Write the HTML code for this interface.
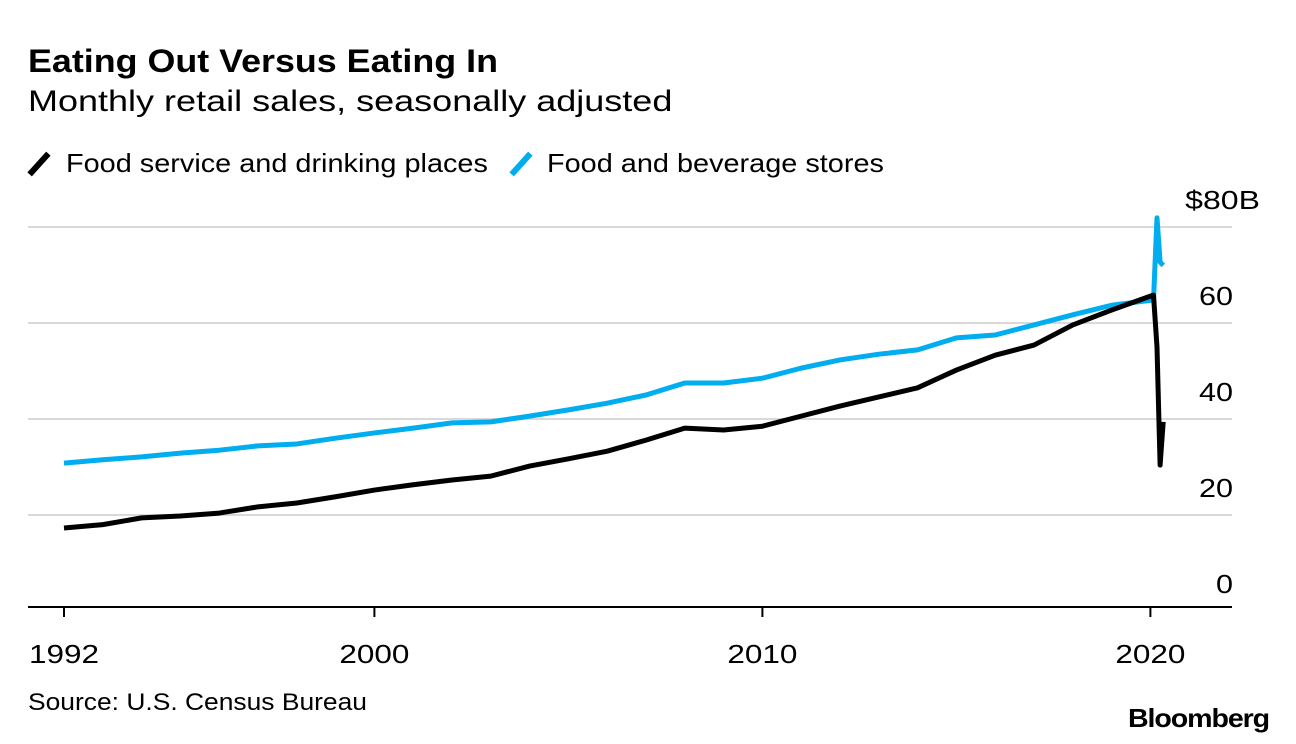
<!DOCTYPE html>
<html><head><meta charset="utf-8"><style>
body{margin:0;background:#fff;font-family:"Liberation Sans",sans-serif;}
#wrap{position:relative;width:1296px;height:744px;overflow:hidden;}
.t{position:absolute;white-space:nowrap;color:#000;transform-origin:0 50%;}
</style></head><body>
<div id="wrap">
<div class="t" style="left:28px;top:43px;font-size:32px;font-weight:bold;transform:scaleX(1.12)">Eating Out Versus Eating In</div>
<div class="t" style="left:28px;top:85px;font-size:30px;transform:scaleX(1.2)">Monthly retail sales, seasonally adjusted</div>
<div style="position:absolute;left:36px;top:150px;width:6px;height:28px;background:#000;transform:rotate(42deg)"></div>
<div class="t" style="left:66px;top:148px;font-size:26px;transform:scaleX(1.11)">Food service and drinking places</div>
<div style="position:absolute;left:518px;top:150px;width:6px;height:28px;background:#00adef;transform:rotate(42deg)"></div>
<div class="t" style="left:547px;top:148px;font-size:26px;transform:scaleX(1.11)">Food and beverage stores</div>
<svg id="chart" width="1296" height="744" style="position:absolute;left:0;top:0"></svg>
<div class="t" style="left:28px;top:689px;font-size:24px;transform:scaleX(1.1)">Source: U.S. Census Bureau</div>
<div class="t" style="left:1128px;top:703px;font-size:26px;font-weight:bold;letter-spacing:-1px;transform:scaleX(1.1)">Bloomberg</div>
</div>
<script>
const yTicks=[0,20,40,60,80];
const yTickLabels=["0","20","40","60","$80B"];
const xTicks=[1992,2000,2010,2020];
const serviceYears=[1992,1993,1994,1995,1996,1997,1998,1999,2000,2001,2002,2003,2004,2005,2006,2007,2008,2009,2010,2011,2012,2013,2014,2015,2016,2017,2018,2019,2020.0,2020.08,2020.17,2020.25,2020.33];
const serviceValues=[17.3,18,19.4,19.8,20.4,21.7,22.5,23.8,25.2,26.3,27.3,28.1,30.2,31.7,33.3,35.6,38.1,37.7,38.5,40.6,42.7,44.6,46.5,50.2,53.3,55.4,59.6,62.7,65.6,65.8,55,30.4,39.4];
const storeYears=[1992,1993,1994,1995,1996,1997,1998,1999,2000,2001,2002,2003,2004,2005,2006,2007,2008,2009,2010,2011,2012,2013,2014,2015,2016,2017,2018,2019,2020.08,2020.17,2020.25,2020.33];
const storeValues=[30.8,31.5,32.1,32.9,33.5,34.4,34.8,36,37.1,38.1,39.2,39.4,40.6,41.9,43.3,45,47.5,47.5,48.5,50.6,52.3,53.5,54.4,56.9,57.5,59.6,61.7,63.7,64.8,81.9,72.7,72];
const NS="http://www.w3.org/2000/svg";
const svg=document.getElementById('chart');
const x=yr=>64+(yr-1992)*38.8;
const y=v=>611-v*4.8;
function mk(tag,attrs){const e=document.createElementNS(NS,tag);for(const k in attrs)e.setAttribute(k,attrs[k]);svg.appendChild(e);return e;}
yTicks.forEach((t,i)=>{
  if(t>0){const g=mk('line',{x1:28,x2:1232,y1:y(t),y2:y(t),stroke:'#d9d9d9','stroke-width':2});
  
  }
  const lab=yTickLabels[i];
  const tx=mk('text',{x:lab.length>3?1260:1233,y:y(t)-18,'text-anchor':'end','font-size':26,'font-family':'Liberation Sans, sans-serif',textLength:lab.length*(lab.length>3?18.7:17),lengthAdjust:'spacingAndGlyphs'});
  tx.textContent=lab;
  
  
});
const ax=mk('line',{x1:28,x2:1232,y1:607,y2:607,stroke:'#000','stroke-width':2});


xTicks.forEach(t=>{
  const tk=mk('line',{x1:x(t),x2:x(t),y1:607,y2:617,stroke:'#000','stroke-width':2});
  
  
  const tx=mk('text',{x:x(t),y:663,'text-anchor':'middle','font-size':26,'font-family':'Liberation Sans, sans-serif',textLength:70,lengthAdjust:'spacingAndGlyphs'});
  tx.textContent=t;
  
  
});
function line(xs,vs,color,name){
  const p=mk('polyline',{points:xs.map((t,i)=>x(t)+','+y(vs[i])).join(' '),fill:'none',stroke:color,'stroke-width':5,'stroke-linejoin':'round'});
  
  
}
line(storeYears,storeValues,'#00adef','food-stores-line');
line(serviceYears,serviceValues,'#000','food-service-line');
</script>
</body></html>
